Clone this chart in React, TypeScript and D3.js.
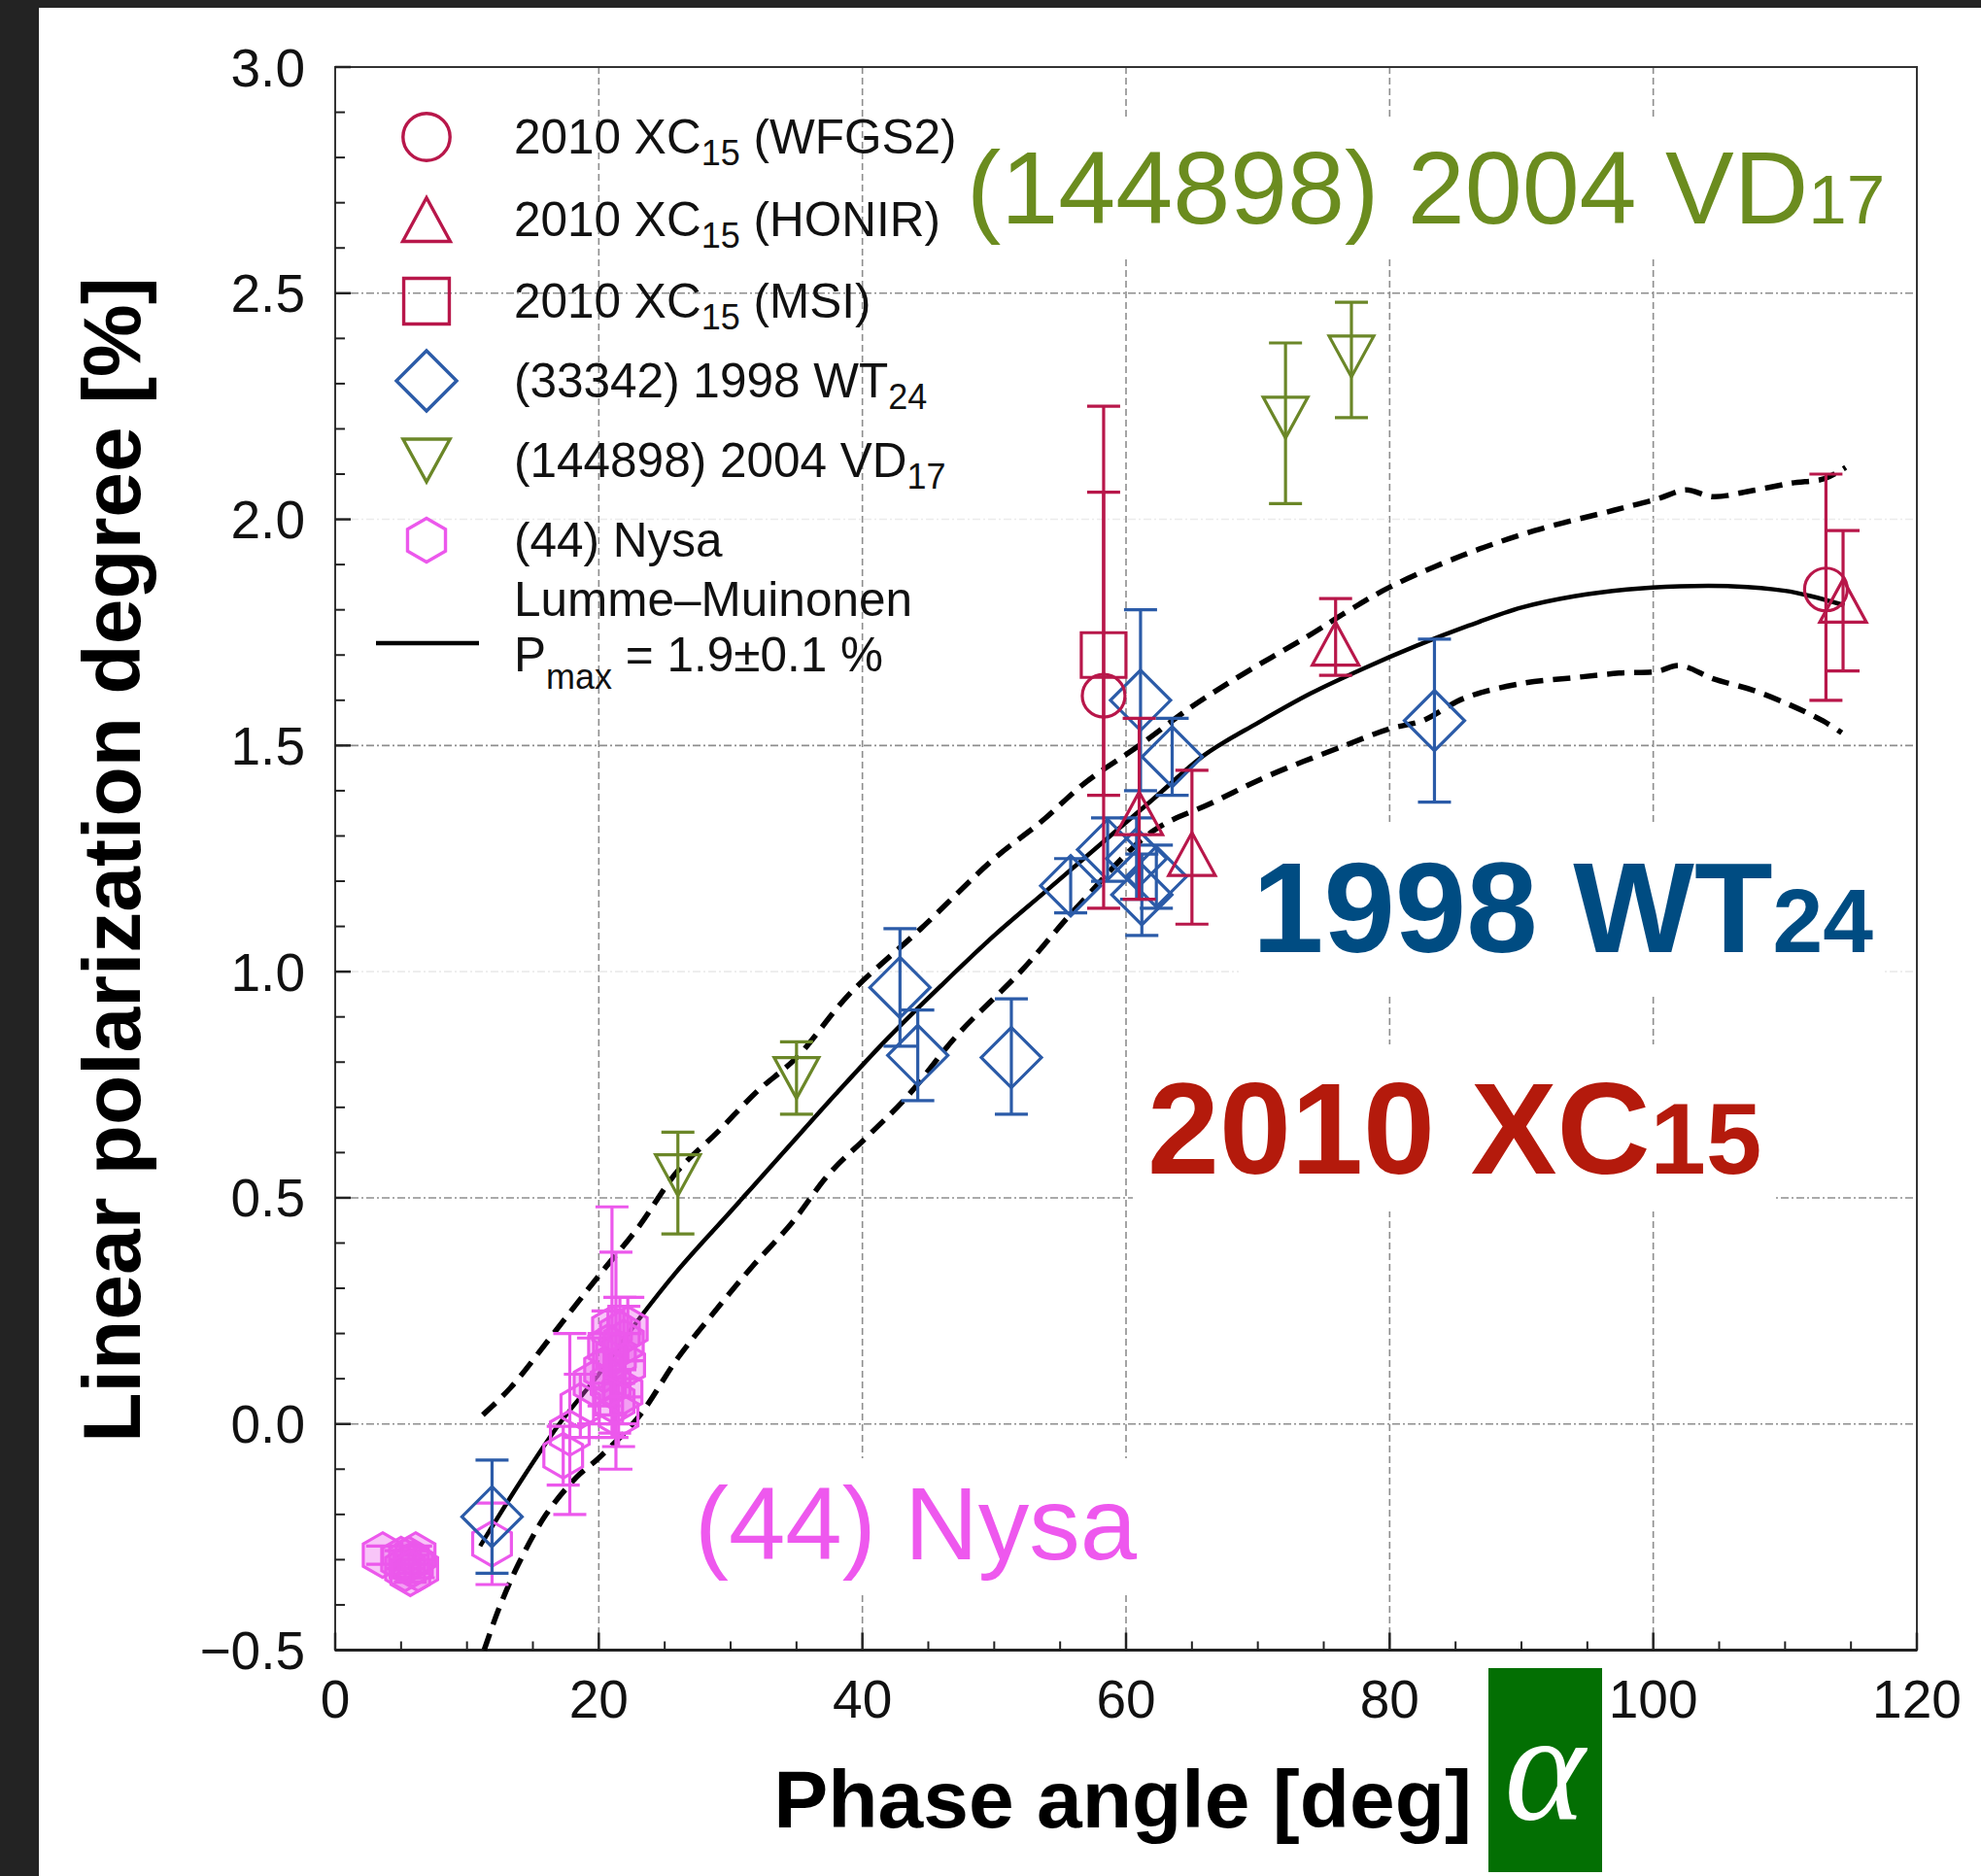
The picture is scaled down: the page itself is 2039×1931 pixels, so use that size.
import React from 'react';
import * as d3 from 'd3';

const W = 2039;
const H = 1931;
const plot = {left: 345, right: 1973, top: 69, bottom: 1698.5};

const xMajor = [0, 20, 40, 60, 80, 100, 120];
const xMinor = d3.range(5, 120, 5).filter(v => v % 20 !== 0);
const yMajor = [-0.5, 0, 0.5, 1, 1.5, 2, 2.5, 3];
const yMinor = d3.range(-4, 30).map(v => v / 10).filter(v => Math.round(v * 10) % 5 !== 0);
const yGrid = [0, 0.5, 1.5, 2.5];
const yGridFaint = [1, 2];
const xGrid = [20, 40, 60, 80, 100];

// [phase angle, P, P low, P high]
const xc15Wfgs2 = [
    [58.3, 1.61, 1.14, 2.25],
    [113.1, 1.845, 1.6, 2.1],
];
const xc15Honir = [
    [61.0, 1.35, 1.16, 1.56],
    [65.0, 1.26, 1.105, 1.445],
    [75.9, 1.725, 1.655, 1.825],
    [114.4, 1.82, 1.665, 1.975],
];
const xc15Msi = [
    [58.3, 1.7, 1.39, 2.06],
];
const wt24 = [
    [11.9, -0.205, -0.33, -0.08],
    [42.85, 0.965, 0.835, 1.095],
    [44.2, 0.815, 0.715, 0.915],
    [51.3, 0.81, 0.685, 0.94],
    [55.8, 1.19, 1.13, 1.25],
    [58.6, 1.27, 1.2, 1.34],
    [60.8, 1.25, 1.16, 1.34],
    [61.2, 1.17, 1.08, 1.26],
    [62.3, 1.21, 1.14, 1.28],
    [61.1, 1.6, 1.4, 1.8],
    [63.5, 1.475, 1.39, 1.56],
    [83.4, 1.555, 1.375, 1.735],
];
const vd17 = [
    [26.0, 0.55, 0.42, 0.645],
    [35.0, 0.765, 0.685, 0.845],
    [72.1, 2.225, 2.035, 2.39],
    [77.1, 2.36, 2.225, 2.48],
];
const nysa = [
    [3.6, -0.29, -0.31, -0.27],
    [5.0, -0.3, -0.32, -0.28],
    [5.3, -0.32, -0.34, -0.3],
    [5.6, -0.3, -0.32, -0.28],
    [5.9, -0.31, -0.33, -0.29],
    [6.1, -0.29, -0.31, -0.27],
    [6.3, -0.32, -0.34, -0.3],
    [5.7, -0.33, -0.35, -0.31],
    [11.9, -0.265, -0.355, -0.175],
    [17.3, -0.07, -0.135, -0.005],
    [17.8, -0.02, -0.2, 0.2],
    [18.6, 0.04, -0.03, 0.11],
    [19.6, 0.09, 0.0, 0.19],
    [20.4, 0.12, 0.04, 0.2],
    [20.7, 0.17, 0.09, 0.25],
    [21.0, 0.21, -0.03, 0.48],
    [21.3, 0.15, -0.1, 0.38],
    [21.6, 0.2, 0.12, 0.28],
    [21.9, 0.18, 0.1, 0.26],
    [22.2, 0.21, 0.14, 0.28],
    [21.2, 0.05, -0.02, 0.12],
    [21.5, 0.02, -0.05, 0.09],
    [21.8, 0.07, 0.0, 0.14],
    [20.9, 0.09, 0.02, 0.16],
    [22.0, 0.13, 0.06, 0.2],
];

// Lumme-Muinonen fit and its bounds, [phase angle, P]
const lmFit = [
    [11, -0.27], [14, -0.13], [17, 0.0], [20, 0.11], [23, 0.23], [26, 0.34], [30, 0.47],
    [34, 0.6], [38, 0.73], [42, 0.855], [46, 0.97], [50, 1.08], [54, 1.18], [58, 1.28],
    [62, 1.38], [66, 1.48], [70, 1.55], [74, 1.615], [78, 1.67], [82, 1.72], [86, 1.765],
    [90, 1.805], [94, 1.83], [98, 1.845], [102, 1.852], [106, 1.852], [110, 1.842],
    [112, 1.83], [114.5, 1.81],
];
const lmUpper = [
    [11.2, 0.02], [13.3, 0.08], [16.3, 0.19], [18.3, 0.265], [20.2, 0.335], [23, 0.435],
    [26, 0.56], [29, 0.645], [32, 0.735], [35, 0.81], [39, 0.95], [44.4, 1.094], [50, 1.25],
    [53.5, 1.33], [57, 1.42], [61, 1.5], [65, 1.586], [69, 1.66], [73.7, 1.74], [77, 1.8],
    [80, 1.85], [85.5, 1.92], [91, 1.975], [97, 2.02], [100.3, 2.045], [102.5, 2.065],
    [104.5, 2.05], [107.6, 2.064], [110.5, 2.08], [113, 2.09], [114.6, 2.115],
];
const lmLower = [
    [11.3, -0.5], [12.4, -0.41], [13.9, -0.31], [16, -0.2], [18.3, -0.118], [20, -0.075],
    [23, 0.015], [26, 0.146], [29, 0.256], [31.7, 0.35], [34.6, 0.443], [37.5, 0.554],
    [40.5, 0.639], [43.4, 0.724], [47.2, 0.86], [52, 1.0], [56.2, 1.14], [62, 1.31],
    [66.5, 1.373], [70.8, 1.433], [76.6, 1.5], [80, 1.537], [82.5, 1.555], [85.7, 1.605],
    [90, 1.637], [94, 1.65], [97.4, 1.66], [100.3, 1.664], [102, 1.677], [104.6, 1.647],
    [107.6, 1.622], [110.5, 1.588], [112.9, 1.554], [114.3, 1.528],
];

const RED = '#b8174a';
const BLUE = '#2b5ba8';
const OLIVE = '#6b8728';
const PINK = '#ec58ec';
const FONT = '"Liberation Sans", Arial, Helvetica, sans-serif';

type Shape = 'circle' | 'up' | 'square' | 'diamond' | 'down' | 'hex';

const markerPath = (shape: Shape, k = 1) => {
    switch (shape) {
        case 'circle': {
            const r = 22 * k;
            return `M${r},0A${r},${r} 0 1,1 ${-r},0A${r},${r} 0 1,1 ${r},0Z`;
        }
        case 'up':
            return `M0,${-22 * k}L${24 * k},${22 * k}L${-24 * k},${22 * k}Z`;
        case 'square': {
            const s = 23 * k;
            return `M${-s},${-s}H${s}V${s}H${-s}Z`;
        }
        case 'diamond': {
            const s = 31 * k;
            return `M0,${-s}L${s},0L0,${s}L${-s},0Z`;
        }
        case 'down':
            return `M${-23 * k},${-21 * k}L${23 * k},${-21 * k}L0,${21 * k}Z`;
        case 'hex': {
            const r = 23 * k;
            const pts = d3.range(6).map(i => {
                const a = (Math.PI / 3) * i - Math.PI / 2;
                return [r * Math.cos(a), r * Math.sin(a)];
            });
            return 'M' + pts.map(p => p.join(',')).join('L') + 'Z';
        }
    }
};

const series = [
    {data: nysa, shape: 'hex' as Shape, color: PINK},
    {data: vd17, shape: 'down' as Shape, color: OLIVE},
    {data: wt24, shape: 'diamond' as Shape, color: BLUE},
    {data: xc15Honir, shape: 'up' as Shape, color: RED},
    {data: xc15Msi, shape: 'square' as Shape, color: RED},
    {data: xc15Wfgs2, shape: 'circle' as Shape, color: RED},
];

const legendRows = [
    {shape: 'circle' as Shape, color: RED, y: 141, k: 1.1, main: '2010 XC', sub: '15', tail: ' (WFGS2)'},
    {shape: 'up' as Shape, color: RED, y: 226, k: 1.02, main: '2010 XC', sub: '15', tail: ' (HONIR)'},
    {shape: 'square' as Shape, color: RED, y: 310, k: 1.02, main: '2010 XC', sub: '15', tail: ' (MSI)'},
    {shape: 'diamond' as Shape, color: BLUE, y: 392, k: 1, main: '(33342) 1998 WT', sub: '24', tail: ''},
    {shape: 'down' as Shape, color: OLIVE, y: 474, k: 1.05, main: '(144898) 2004 VD', sub: '17', tail: ''},
    {shape: 'hex' as Shape, color: PINK, y: 556, k: 0.98, main: '(44) Nysa', sub: '', tail: ''},
];

const App = () => {
    const x = d3.scaleLinear().domain([0, 120]).range([plot.left, plot.right]);
    const y = d3.scaleLinear().domain([-0.5, 3]).range([plot.bottom, plot.top]);

    const line = d3.line<number[]>()
        .x(d => x(d[0]))
        .y(d => y(d[1]))
        .curve(d3.curveCatmullRom.alpha(0.5));

    // crowded points look filled in the original, so give them a light fill
    const crowd = (data: number[][], d: number[]) =>
        data.filter(o => Math.hypot(x(o[0]) - x(d[0]), y(o[1]) - y(d[1])) < 30).length;

    return (
        <svg width={W} height={H} viewBox={`0 0 ${W} ${H}`}
             style={{position: 'absolute', left: 0, top: 0, display: 'block'}}>
            <rect x={0} y={0} width={W} height={H} fill="#232323"/>
            <rect x={40} y={8} width={W - 40} height={H - 8} fill="#ffffff"/>

            {/* grid */}
            <g stroke="#8e8e8e" strokeWidth={1.6} fill="none">
                {xGrid.map(v => (
                    <line key={'gx' + v} x1={x(v)} x2={x(v)} y1={plot.top} y2={plot.bottom} strokeDasharray="7 4"/>
                ))}
                {yGrid.map(v => (
                    <line key={'gy' + v} x1={plot.left} x2={plot.right} y1={y(v)} y2={y(v)} strokeDasharray="8 3 2 3"/>
                ))}
                {yGridFaint.map(v => (
                    <line key={'gf' + v} x1={plot.left} x2={plot.right} y1={y(v)} y2={y(v)}
                          stroke="#ececec" strokeDasharray="8 3 2 3"/>
                ))}
            </g>

            {/* white boxes behind the big labels */}
            <g fill="#ffffff">
                <rect x={985} y={124} width={965} height={140}/>
                <rect x={1275} y={847} width={665} height={175}/>
                <rect x={1166} y={1075} width={662} height={172}/>
                <rect x={700} y={1501} width={485} height={137}/>
            </g>

            {/* frame */}
            <rect x={plot.left} y={plot.top} width={plot.right - plot.left} height={plot.bottom - plot.top}
                  fill="none" stroke="#333" strokeWidth={2}/>
            <line x1={plot.left} x2={plot.right} y1={plot.bottom} y2={plot.bottom} stroke="#222" strokeWidth={3}/>

            {/* ticks */}
            <g stroke="#222">
                {yMajor.map(v => (
                    <line key={'ym' + v} x1={plot.left} x2={plot.left + 16} y1={y(v)} y2={y(v)} strokeWidth={2.5}/>
                ))}
                {yMinor.map(v => (
                    <line key={'yn' + v} x1={plot.left} x2={plot.left + 10} y1={y(v)} y2={y(v)} strokeWidth={2}/>
                ))}
                {xMajor.map(v => (
                    <line key={'xm' + v} x1={x(v)} x2={x(v)} y1={plot.bottom} y2={plot.bottom - 18} strokeWidth={2.5}/>
                ))}
                {xMinor.map(v => (
                    <line key={'xn' + v} x1={x(v)} x2={x(v)} y1={plot.bottom} y2={plot.bottom - 9} strokeWidth={2}/>
                ))}
            </g>

            {/* tick labels */}
            <g fontFamily={FONT} fontSize={55} fill="#111">
                {yMajor.map(v => (
                    <text key={'yl' + v} x={314} y={y(v) + 19.5} textAnchor="end">
                        {v < 0 ? '\u2212' + Math.abs(v).toFixed(1) : v.toFixed(1)}
                    </text>
                ))}
                {xMajor.map(v => (
                    <text key={'xl' + v} x={x(v)} y={1768} textAnchor="middle">{v}</text>
                ))}
            </g>

            {/* axis titles */}
            <text x={1515} y={1881} textAnchor="end" fontFamily={FONT} fontWeight="bold" fontSize={84} fill="#000">
                Phase angle [deg]
            </text>
            <text transform="translate(144,885) rotate(-90)" textAnchor="middle" fontFamily={FONT}
                  fontWeight="bold" fontSize={84} fill="#000">
                Linear polarization degree [%]
            </text>
            <rect x={1532} y={1717} width={117} height={210} fill="#036f03"/>
            <text x={1590} y={1872} textAnchor="middle" fontFamily='"Liberation Serif", "Times New Roman", serif'
                  fontStyle="italic" fontSize={158} fill="#ffffff">α</text>

            {/* model curves */}
            <path d={line(lmUpper) || ''} fill="none" stroke="#000" strokeWidth={5.5} strokeDasharray="18 10"/>
            <path d={line(lmLower) || ''} fill="none" stroke="#000" strokeWidth={5.5} strokeDasharray="18 10"/>
            <path d={line(lmFit) || ''} fill="none" stroke="#000" strokeWidth={4.5}/>

            {/* observations */}
            {series.map((s, si) => (
                <g key={'s' + si} stroke={s.color} strokeWidth={3.2} fill="none">
                    {s.data.map((d, i) => (
                        <g key={i}>
                            <line x1={x(d[0])} x2={x(d[0])} y1={y(d[2])} y2={y(d[3])}/>
                            <line x1={x(d[0]) - 17} x2={x(d[0]) + 17} y1={y(d[2])} y2={y(d[2])}/>
                            <line x1={x(d[0]) - 17} x2={x(d[0]) + 17} y1={y(d[3])} y2={y(d[3])}/>
                            <path d={markerPath(s.shape)} transform={`translate(${x(d[0])},${y(d[1])})`}
                                  fill={s.shape === 'hex' && crowd(s.data, d) > 3 ? s.color : 'none'}
                                  fillOpacity={0.35}/>
                        </g>
                    ))}
                </g>
            ))}

            {/* legend */}
            <g fontFamily={FONT} fontSize={49.5} fill="#111">
                {legendRows.map((r, i) => (
                    <g key={'lg' + i}>
                        <path d={markerPath(r.shape, r.k)} transform={`translate(439,${r.y})`}
                              fill="none" stroke={r.color} strokeWidth={3.4}/>
                        <text x={529} y={r.y + 17}>
                            {r.main}
                            {r.sub && <tspan fontSize={36} dy={12}>{r.sub}</tspan>}
                            {r.tail && <tspan dy={-12}>{r.tail}</tspan>}
                        </text>
                    </g>
                ))}
                <line x1={387} x2={493} y1={662} y2={662} stroke="#000" strokeWidth={4.5}/>
                <text x={529} y={634}>Lumme–Muinonen</text>
                <text x={529} y={691}>
                    P<tspan fontSize={36} dy={18}>max</tspan><tspan dy={-18}> = 1.9±0.1 %</tspan>
                </text>
            </g>

            {/* object labels */}
            <text x={995} y={230} fontFamily={FONT} fontSize={106} fill="#6b8c1f">
                (144898) 2004 VD<tspan fontSize={71}>17</tspan>
            </text>
            <text x={1289} y={980} fontFamily={FONT} fontWeight="bold" fontSize={132} fill="#004c82">
                1998 WT<tspan fontSize={93}>24</tspan>
            </text>
            <text x={1181} y={1208} fontFamily={FONT} fontWeight="bold" fontSize={133} fill="#b41a0c">
                2010 XC<tspan fontSize={103}>15</tspan>
            </text>
            <text x={715} y={1605} fontFamily={FONT} fontSize={105} fill="#ee58ee">(44) Nysa</text>
        </svg>
    );
};

export default App;
